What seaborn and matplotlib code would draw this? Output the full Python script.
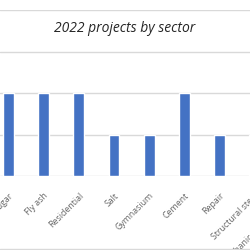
import matplotlib
matplotlib.use("Agg")
import matplotlib.pyplot as plt
import seaborn as sns
import pandas as pd

# data (cropped Excel column chart)
sectors = ["Sugar", "Fly ash", "Residential", "Salt", "Gymnasium",
           "Cement", "Repair", "Structural steel", "Mechanical engineering"]
projects = [2, 2, 2, 1, 1, 2, 1, 1, 1]

df = pd.DataFrame({"sector": sectors, "projects": projects})

sns.set_theme(style="white")
plt.rcParams['font.family'] = ['Open Sans', 'DejaVu Sans']

fig = plt.figure(figsize=(2.5, 2.5), dpi=100)
# the axes runs past the right edge: the reference is a crop of a wider chart
ax = fig.add_axes([0, 0.296, 1.3, 0.664])

sns.barplot(data=df, x="sector", y="projects", order=sectors,
            color="#4472C4", saturation=1, width=0.31, ax=ax)

ax.set_ylim(0, 4)
ax.set_xlim(-0.248, 9.01)
ax.set_yticks([0, 1, 2, 3, 4])
ax.yaxis.grid(True, color="#D9D9D9", linewidth=1)
ax.set_axisbelow(True)
ax.tick_params(axis="y", left=False, labelleft=False)
ax.tick_params(axis="x", bottom=False, pad=5, labelsize=6.3, labelcolor="#666666")
for lbl in ax.get_xticklabels():
    lbl.set_rotation(45)
    lbl.set_ha("right")
    lbl.set_rotation_mode("anchor")
for s in ax.spines.values():
    s.set_visible(False)
ax.set_xlabel("")
ax.set_ylabel("")

# chart title, sits between the top two gridlines
fig.text(0.5, 0.888, "2022 projects by sector", ha="center", va="center",
         fontsize=10, style="italic", color="#262626")

# outer border line at the bottom of the chart area
fig.add_artist(plt.Line2D([0, 1], [0.004, 0.004], color="#D9D9D9", linewidth=1))

fig.savefig("out.png", dpi=100)
